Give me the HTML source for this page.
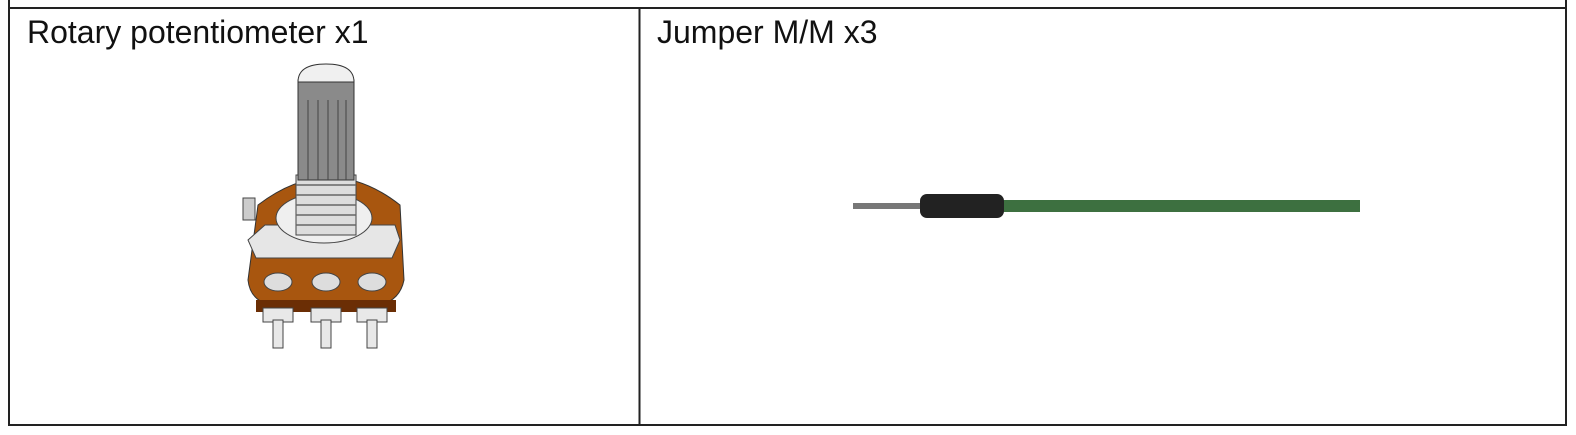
<!DOCTYPE html>
<html><head><meta charset="utf-8"><style>
html,body{margin:0;padding:0;background:#fff;width:1576px;height:435px;overflow:hidden}
.t{position:absolute;font-family:"Liberation Sans","Noto Sans CJK SC",sans-serif;font-size:32px;line-height:36px;color:#111}
</style></head><body>
<svg width="1576" height="435" style="position:absolute;left:0;top:0">
<g stroke="#222" stroke-width="2" fill="none">
<line x1="9" y1="0" x2="9" y2="426"/>
<line x1="9" y1="8" x2="1567" y2="8"/>
<line x1="1566" y1="0" x2="1566" y2="426"/>
<line x1="9" y1="425" x2="1567" y2="425"/>
<line x1="639.5" y1="8" x2="639.5" y2="426"/>
</g>
<g>
<path d="M258 205 Q330 150 400 205 L404 280 Q400 300 380 305 L270 305 Q250 300 248 280 Z" fill="#a8560f" stroke="#333"/>
<rect x="256" y="300" width="140" height="12" fill="#6b2e05"/>
<path d="M265 225 L395 225 L400 240 L392 258 L256 258 L248 240 Z" fill="#e6e6e6" stroke="#444"/>
<ellipse cx="324" cy="218" rx="48" ry="25" fill="#efefef" stroke="#444"/>
<rect x="296" y="175" width="60" height="60" fill="#ddd" stroke="#444"/>
<g stroke="#666" stroke-width="1.5"><line x1="296" y1="185" x2="356" y2="185"/><line x1="296" y1="195" x2="356" y2="195"/><line x1="296" y1="205" x2="356" y2="205"/><line x1="296" y1="215" x2="356" y2="215"/><line x1="296" y1="225" x2="356" y2="225"/></g>
<rect x="298" y="80" width="56" height="100" fill="#8a8a8a" stroke="#333"/>
<g stroke="#444"><line x1="308" y1="100" x2="308" y2="180"/><line x1="318" y1="100" x2="318" y2="180"/><line x1="328" y1="100" x2="328" y2="180"/><line x1="338" y1="100" x2="338" y2="180"/><line x1="346" y1="100" x2="346" y2="180"/></g>
<path d="M298 82 Q298 64 326 64 Q354 64 354 82 Z" fill="#f0f0f0" stroke="#333"/>
<rect x="243" y="198" width="12" height="22" fill="#ccc" stroke="#444"/>
<ellipse cx="278" cy="282" rx="14" ry="9" fill="#ddd" stroke="#444"/>
<ellipse cx="326" cy="282" rx="14" ry="9" fill="#ddd" stroke="#444"/>
<ellipse cx="372" cy="282" rx="14" ry="9" fill="#ddd" stroke="#444"/>
<g fill="#e8e8e8" stroke="#444">
<rect x="263" y="308" width="30" height="14"/><rect x="311" y="308" width="30" height="14"/><rect x="357" y="308" width="30" height="14"/>
<rect x="273" y="320" width="10" height="28"/><rect x="321" y="320" width="10" height="28"/><rect x="367" y="320" width="10" height="28"/>
</g>
</g>
<g>
<rect x="853" y="203" width="70" height="6" fill="#777"/>
<rect x="1000" y="200" width="360" height="12" fill="#3d7040"/>
<rect x="920" y="194" width="84" height="24" rx="7" fill="#222"/>
</g>
</svg>
<div class="t" style="left:27px;top:14px">Rotary potentiometer x1</div>
<div class="t" style="left:657px;top:14px">Jumper M/M x3</div>
</body></html>
